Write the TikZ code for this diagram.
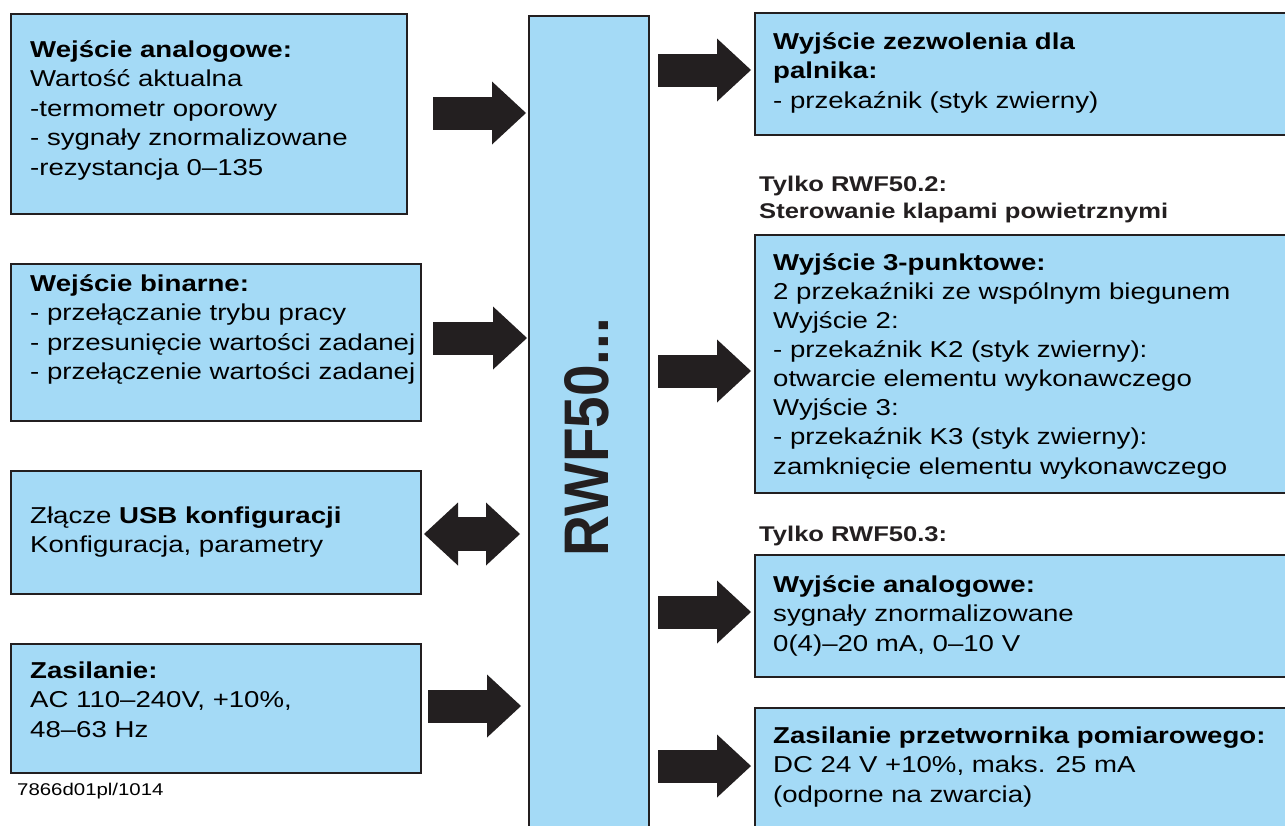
\documentclass[tikz,border=0pt]{standalone}
\usepackage{fontspec}
\setmainfont{Liberation Sans}[FakeStretch=1.2]
\newfontfamily\rwffont{Liberation Sans}
\usetikzlibrary{arrows.meta}
\definecolor{boxblue}{RGB}{164,218,246}
\definecolor{ink}{RGB}{35,31,32}
\tikzset{
  box/.style={draw=ink, line width=2pt, fill=boxblue, inner sep=0pt, anchor=north west},
  txt/.style={anchor=base west, align=left, inner sep=0pt, font=\fontsize{23}{29.5}\selectfont, text=black},
  note/.style={anchor=base west, align=left, inner sep=0pt, font=\fontsize{21.3}{27}\selectfont\bfseries, text=ink},
  tipr/.tip={Triangle[length=34pt 0 0, width=63pt 0 0, line width=0pt]},
  blk/.style={draw=ink, line width=33pt, line cap=butt, -tipr},
  dblk/.style={draw=ink, line width=34pt, line cap=butt, tipr-tipr},
}
\begin{document}
\begin{tikzpicture}[x=1pt,y=-1pt]
\useasboundingbox (0,0) rectangle (1285,825);

% boxes
\node[box, minimum width=396pt, minimum height=200pt] (l1) at (10,13) {};
\node[box, minimum width=410pt, minimum height=157pt] (l2) at (10,263) {};
\node[box, minimum width=410pt, minimum height=123pt] (l3) at (10,470) {};
\node[box, minimum width=410pt, minimum height=129pt] (l4) at (10,643) {};
\node[box, minimum width=120pt, minimum height=830pt] (rwf) at (528,15) {};
\node[box, minimum width=560pt, minimum height=122pt] (r1) at (754,12) {};
\node[box, minimum width=560pt, minimum height=258pt] (r2) at (754,234) {};
\node[box, minimum width=560pt, minimum height=122pt] (r3) at (754,554) {};
\node[box, minimum width=560pt, minimum height=200pt] (r4) at (754,707) {};

% centre label
\node[rotate=90, inner sep=0pt, text=ink, font=\rwffont\bfseries\fontsize{63}{63}\selectfont] (rwflabel) at (587,437) {\scalebox{0.9}[1]{RWF50...}};

% arrows
\coordinate (a1s) at (433,113);
\coordinate (a2s) at (433,338);
\coordinate (a3s) at (424,534);
\coordinate (a4s) at (428,706);
\coordinate (b1s) at (658,70);
\coordinate (b2s) at (658,371);
\coordinate (b3s) at (658,612);
\coordinate (b4s) at (658,766);
\draw[blk] (a1s) -- ([xshift=-2pt]a1s -| rwf.west);
\draw[blk] (a2s) -- ([xshift=-1pt]a2s -| rwf.west);
\draw[dblk] (a3s) -- ([xshift=-8pt]a3s -| rwf.west);
\draw[blk] (a4s) -- ([xshift=-7pt]a4s -| rwf.west);
\draw[blk] (b1s) -- ([xshift=-3pt]b1s -| r1.west);
\draw[blk] (b2s) -- ([xshift=-3pt]b2s -| r2.west);
\draw[blk] (b3s) -- ([xshift=-3pt]b3s -| r3.west);
\draw[blk] (b4s) -- ([xshift=-3pt]b4s -| r4.west);

% texts (anchor = baseline of the last line)
\node[txt] (t1) at (30,175) {\textbf{Wejście analogowe:}\\Wartość aktualna\\-termometr oporowy\\- sygnały znormalizowane\\-rezystancja 0–135};
\node[txt] (t2) at (30,379.5) {\textbf{Wejście binarne:}\\- przełączanie trybu pracy\\- przesunięcie wartości zadanej\\- przełączenie wartości zadanej};
\node[txt] (t3) at (30,552.5) {Złącze \textbf{USB konfiguracji}\\Konfiguracja, parametry};
\node[txt] (t4) at (30,737) {\textbf{Zasilanie:}\\AC 110–240V, +10\%,\\48–63 Hz};
\node[txt] (u1) at (773,108) {\textbf{Wyjście zezwolenia dla}\\\textbf{palnika:}\\- przekaźnik (styk zwierny)};
\node[note] (n1) at (759,218) {Tylko RWF50.2:\\Sterowanie klapami powietrznymi};
\node[txt, font=\fontsize{23}{29.1}\selectfont] (u2) at (773,474) {\textbf{Wyjście 3-punktowe:}\\2 przekaźniki ze wspólnym biegunem\\Wyjście 2:\\- przekaźnik K2 (styk zwierny):\\otwarcie elementu wykonawczego\\Wyjście 3:\\- przekaźnik K3 (styk zwierny):\\zamknięcie elementu wykonawczego};
\node[note] (n2) at (759,541) {Tylko RWF50.3:};
\node[txt] (u3) at (773,651) {\textbf{Wyjście analogowe:}\\sygnały znormalizowane\\0(4)–20 mA, 0–10 V};
\node[txt] (u4) at (773,802) {\textbf{Zasilanie przetwornika pomiarowego:}\\DC 24 V +10\%, maks. 25 mA\\(odporne na zwarcia)};
\node[anchor=base west, inner sep=0pt, font=\fontsize{17}{20}\selectfont] (fn) at (17,795) {7866d01pl/1014};
\end{tikzpicture}
\end{document}
